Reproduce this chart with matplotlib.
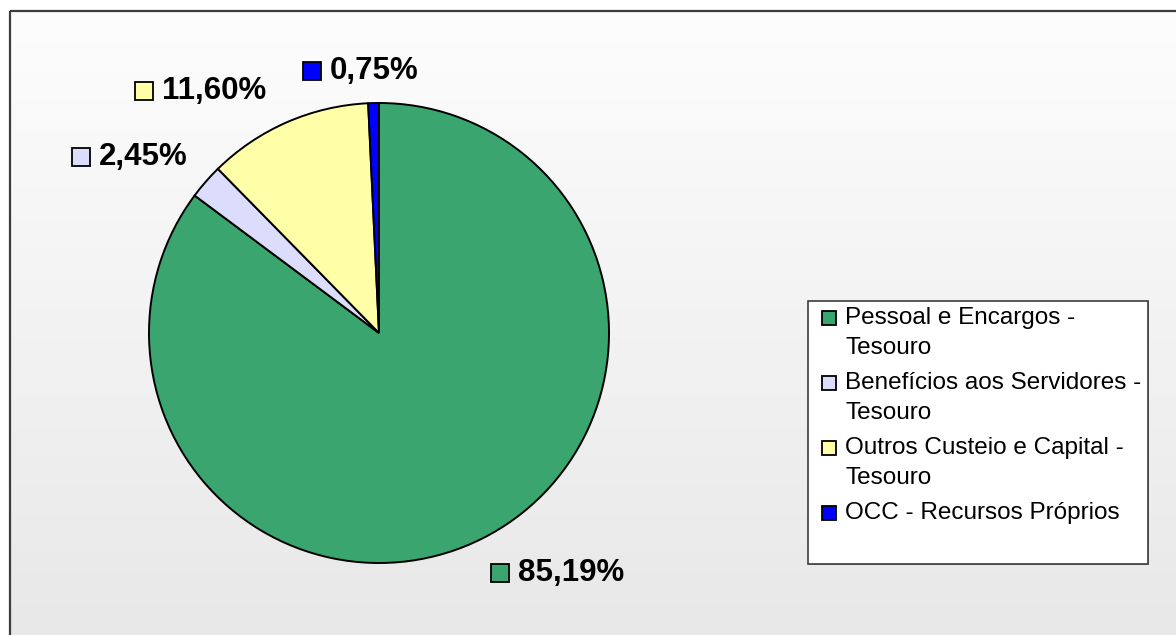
import matplotlib
matplotlib.use("Agg")
import matplotlib.pyplot as plt
import numpy as np
from matplotlib.patches import Rectangle

plt.rcParams['font.family'] = ['Liberation Sans', 'DejaVu Sans']

# data
categorias = ['Pessoal e Encargos -\nTesouro',
              'Benefícios aos Servidores -\nTesouro',
              'Outros Custeio e Capital -\nTesouro',
              'OCC - Recursos Próprios']
valores = [85.19, 2.45, 11.60, 0.75]
rotulos = ['85,19%', '2,45%', '11,60%', '0,75%']
cores = ['#3ba56f', '#dcdcfc', '#ffffa8', '#0000ff']

W, H = 1176, 635
fig = plt.figure(figsize=(W / 100, H / 100), dpi=100)

# background axes in pixel units (y downwards)
bg = fig.add_axes([0, 0, 1, 1])
bg.set_xlim(0, W)
bg.set_ylim(H, 0)
bg.axis('off')

grad = np.linspace(0, 1, 256).reshape(-1, 1)
bg.imshow(grad, cmap=matplotlib.colors.LinearSegmentedColormap.from_list('g', ['#fdfdfd', '#e8e8e8']),
          extent=[10, W, H, 11], aspect='auto', zorder=0)
bg.add_patch(Rectangle((10, 11), W + 10, H + 10, fill=False, ec='#3c3c3c', lw=1.6, zorder=1))

# legend drawn by hand so the key sits on the first line of each entry
lx0, ly0, lx1, ly1 = 808, 301, 1148, 564
bg.add_patch(Rectangle((lx0 + 1, ly0 + 1), lx1 - lx0, ly1 - ly0, fc='#9a9a9a', ec='none', zorder=2))
bg.add_patch(Rectangle((lx0, ly0), lx1 - lx0, ly1 - ly0, fc='white', ec='#3c3c3c', lw=1.2, zorder=3))
y = 318
for lab, c in zip(categorias, cores):
    bg.add_patch(Rectangle((822, y - 7), 14, 14, fc=c, ec='black', lw=1.3, zorder=4))
    for k, linha in enumerate(lab.split('\n')):
        bg.text(845, y + 30 * k, linha, fontsize=17.5, va='center', ha='left', zorder=4)
    y += 30 * lab.count('\n') + 35

# pie
cx, cy, r = 379, 333, 230
ax = fig.add_axes([(cx - r) / W, (H - cy - r) / H, 2 * r / W, 2 * r / H])
ax.pie(valores, colors=cores, startangle=90, counterclock=False,
       wedgeprops=dict(edgecolor='black', linewidth=1.4))
ax.set_xlim(-1, 1)
ax.set_ylim(-1, 1)
ax.set_aspect('equal')
ax.axis('off')

# label anchors (left of text, vertical centre) in radius units
pos_rot = [(0.604, -1.043), (-1.217, 0.765), (-0.943, 1.052), (-0.213, 1.139)]
mk = 0.078
for (u, v), txt, c in zip(pos_rot, rotulos, cores):
    ax.add_patch(Rectangle((u - 0.039 - mk, v - mk / 2), mk, mk, fc=c, ec='black',
                           lw=1.3, clip_on=False, zorder=5))
    ax.text(u, v, txt, fontsize=22.5, fontweight='bold', ha='left', va='center',
            clip_on=False, zorder=5)

fig.savefig('out.png', dpi=100)
